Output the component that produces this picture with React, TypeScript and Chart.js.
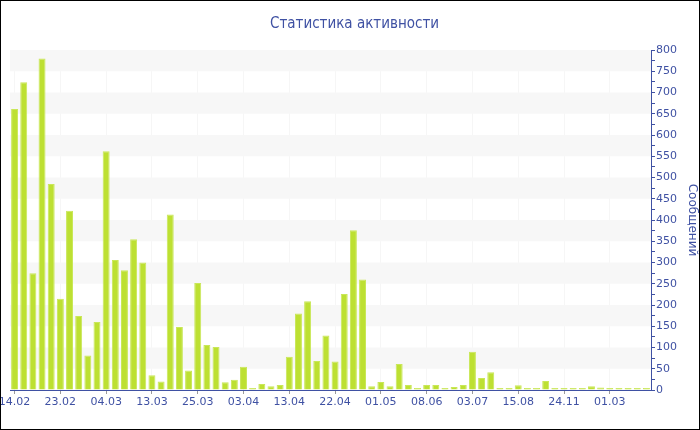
import React, { useEffect, useRef } from "react";
import { Chart, registerables } from "chart.js";

Chart.register(...registerables);

const TITLE = "Статистика активности";
const Y_TITLE = "Сообщений";

// Visible tick labels (one every 5 categories)
const tickLabels = [
  "14.02", "23.02", "04.03", "13.03", "25.03", "03.04", "13.04",
  "22.04", "01.05", "08.06", "03.07", "15.08", "24.11", "01.03",
];

// Messages per period (70 bars)
const values = [
  661, 724, 275, 780, 485, 215, 422, 174, 81, 160,
  562, 306, 282, 355, 300, 35, 20, 413, 148, 46,
  252, 106, 101, 18, 24, 55, 4, 14, 9, 12,
  78, 180, 209, 68, 128, 67, 226, 376, 260, 9,
  19, 9, 61, 12, 5, 12, 12, 4, 7, 12,
  90, 28, 42, 5, 5, 11, 3, 3, 21, 3,
  3, 5, 3, 9, 6, 4, 3, 3, 3, 3,
];

const LABEL_EVERY = 5;
const categories = values.map((_, i) =>
  i % LABEL_EVERY === 0 ? tickLabels[i / LABEL_EVERY] ?? "" : ""
);

const yMin = 0;
const yMax = 800;
const bandStep = 50;

const BLUE = "#3f51a3";
const FONT = "'DejaVu Sans', Verdana, sans-serif";
const TITLE_FONT = "'DejaVu Sans Condensed', 'DejaVu Sans', sans-serif";

const bandsPlugin = {
  id: "bands",
  beforeDatasetsDraw(chart: any) {
    const { ctx, chartArea, scales } = chart;
    const y = scales.y;
    ctx.save();
    ctx.fillStyle = "#f7f7f7";
    for (let v = yMin; v < yMax; v += bandStep) {
      const k = Math.round(v / bandStep);
      if (k % 2 === 1) {
        const top = y.getPixelForValue(v + bandStep);
        const bot = y.getPixelForValue(v);
        ctx.fillRect(chartArea.left, top, chartArea.right - chartArea.left, bot - top);
      }
    }
    ctx.restore();
  },
};

export default function App() {
  const ref = useRef<HTMLCanvasElement | null>(null);

  useEffect(() => {
    document.body.style.margin = "0";
    if (!ref.current) return;
    const chart = new Chart(ref.current, {
      type: "bar",
      data: {
        labels: categories,
        datasets: [
          {
            data: values,
            backgroundColor: "#bde032",
            borderColor: "#c9e758",
            borderWidth: 1,
            barPercentage: 0.76,
            categoryPercentage: 1,
            minBarLength: 2,
          },
        ],
      },
      plugins: [bandsPlugin],
      options: {
        animation: false,
        responsive: true,
        maintainAspectRatio: false,
        layout: { padding: { left: 9, right: 0, top: 0, bottom: 0 } },
        plugins: {
          legend: { display: false },
          tooltip: { enabled: false },
          title: {
            display: true,
            text: TITLE,
            color: BLUE,
            font: { family: TITLE_FONT, size: 15, weight: "normal" },
            padding: { top: 14, bottom: 17 },
          },
        },
        scales: {
          x: {
            type: "category",
            offset: true,
            grid: {
              offset: false,
              display: true,
              drawOnChartArea: true,
              color: (c: any) => (c.index % LABEL_EVERY === 0 ? "rgba(0,0,0,0.035)" : "rgba(0,0,0,0)"),
              tickColor: (c: any) => (c.index % LABEL_EVERY === 0 ? "#9a9a9a" : "rgba(0,0,0,0)"),
              tickLength: 4,
            },
            border: { display: true, color: BLUE, width: 1 },
            ticks: {
              autoSkip: false,
              maxRotation: 0,
              minRotation: 0,
              color: BLUE,
              padding: 2,
              font: { family: FONT, size: 11 },
            },
            afterFit: (s: any) => {
              s.height = 39;
              s.paddingLeft = 0;
              s.paddingRight = 0;
            },
          },
          y: {
            position: "right",
            min: yMin,
            max: yMax,
            grid: {
              drawOnChartArea: false,
              drawTicks: true,
              tickLength: 4,
              tickColor: BLUE,
            },
            border: { display: true, color: BLUE, width: 1 },
            ticks: {
              stepSize: 25,
              autoSkip: false,
              color: BLUE,
              padding: 1,
              font: { family: FONT, size: 11 },
              callback: (v: any) => (Number(v) % 50 === 0 ? String(v) : ""),
            },
            title: {
              display: true,
              text: Y_TITLE,
              color: BLUE,
              font: { family: FONT, size: 12 },
              padding: 0,
            },
            afterFit: (s: any) => {
              s.width = 48;
            },
          },
        },
      },
    });
    return () => chart.destroy();
  }, []);

  return (
    <div
      style={{
        position: "fixed",
        left: 0,
        top: 0,
        width: 700,
        height: 430,
        boxSizing: "border-box",
        border: "1px solid #000",
        background: "#fff",
      }}
    >
      <div style={{ position: "relative", width: 698, height: 428 }}>
        <canvas ref={ref} />
      </div>
    </div>
  );
}
